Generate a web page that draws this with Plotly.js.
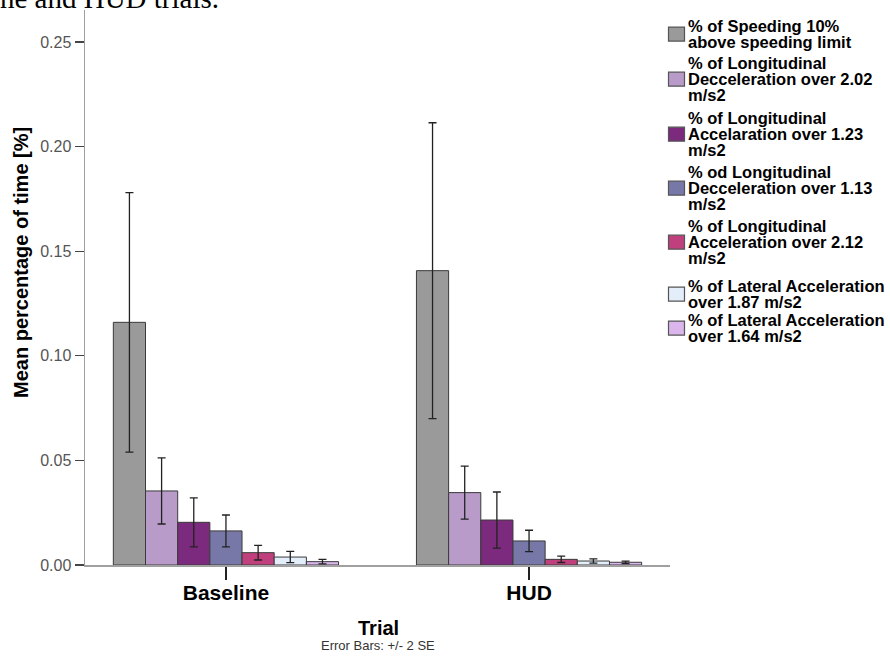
<!DOCTYPE html>
<html>
<head>
<meta charset="utf-8">
<script src="https://cdn.plot.ly/plotly-3.0.1.min.js"></script>
<style>html,body{margin:0;padding:0;background:#fff;}#chart{width:890px;height:657px;}</style>
</head>
<body>
<div id="chart"></div>
<script>
// ---- data ----
var trials = ['Baseline', 'HUD'];
var seriesNames = [
  '% of Speeding 10% above speeding limit',
  '% of Longitudinal Decceleration over 2.02 m/s2',
  '% of Longitudinal Accelaration over 1.23 m/s2',
  '% od Longitudinal Decceleration over 1.13 m/s2',
  '% of Longitudinal Acceleration over 2.12 m/s2',
  '% of Lateral Acceleration over 1.87 m/s2',
  '% of Lateral Acceleration over 1.64 m/s2'
];
var legendLines = [
  ['% of Speeding 10%', 'above speeding limit'],
  ['% of Longitudinal', 'Decceleration over 2.02', 'm/s2'],
  ['% of Longitudinal', 'Accelaration over 1.23', 'm/s2'],
  ['% od Longitudinal', 'Decceleration over 1.13', 'm/s2'],
  ['% of Longitudinal', 'Acceleration over 2.12', 'm/s2'],
  ['% of Lateral Acceleration', 'over 1.87 m/s2'],
  ['% of Lateral Acceleration', 'over 1.64 m/s2']
];
var speedingMean = [0.1160, 0.1407];
var decel202Mean = [0.0354, 0.0346];
var accel123Mean = [0.0204, 0.0215];
var decel113Mean = [0.0163, 0.0115];
var accel212Mean = [0.0059, 0.0027];
var lat187Mean   = [0.0038, 0.0019];
var lat164Mean   = [0.0016, 0.0013];

var speedingErr = [0.0620, 0.0707];
var decel202Err = [0.0158, 0.0127];
var accel123Err = [0.0117, 0.0134];
var decel113Err = [0.0076, 0.0051];
var accel212Err = [0.0035, 0.0015];
var lat187Err   = [0.0027, 0.0010];
var lat164Err   = [0.0011, 0.0006];

var yTickVals = [0, 0.05, 0.10, 0.15, 0.20, 0.25];

// ---- styles ----
var colors = ['#9a9a9a', '#b99bc9', '#7c2a7d', '#7878a8', '#c0407e', '#e3eefa', '#dab6ec'];
var means = [speedingMean, decel202Mean, accel123Mean, decel113Mean, accel212Mean, lat187Mean, lat164Mean];
var errs = [speedingErr, decel202Err, accel123Err, decel113Err, accel212Err, lat187Err, lat164Err];

var W = 890, H = 657, mL = 85, mR = 220, mT = 10, mB = 92;
var pw = W - mL - mR, ph = H - mT - mB;
function px(x) { return (x - mL) / pw; }
function py(y) { return (H - mB - y) / ph; }

var traces = seriesNames.map(function (name, i) {
  return {
    type: 'bar',
    name: name,
    x: trials,
    y: means[i],
    marker: { color: colors[i], line: { color: '#3a3a3a', width: 1 } },
    error_y: { type: 'data', array: errs[i], visible: true, color: '#222', thickness: 1.3, width: 4 },
    showlegend: false,
    hoverinfo: 'x+y+name'
  };
});

var font = 'Liberation Sans, Arial, sans-serif';
var annotations = [];
var shapes = [];

// top clipped caption text
annotations.push({
  xref: 'paper', yref: 'paper', x: px(221), y: py(16), xanchor: 'right', yanchor: 'bottom',
  text: 'in the Baseline and HUD trials.', showarrow: false,
  font: { family: 'Liberation Serif, Times New Roman, serif', size: 29, color: '#000' }
});

// y axis title
annotations.push({
  xref: 'paper', yref: 'paper', x: px(21), y: py(263), xanchor: 'center', yanchor: 'middle',
  text: 'Mean percentage of time [%]', textangle: -90, showarrow: false,
  font: { family: font, size: 20, color: '#000', weight: 'bold' }
});
// x axis title and note
annotations.push({
  xref: 'paper', yref: 'paper', x: px(378), y: py(628), xanchor: 'center', yanchor: 'middle',
  text: 'Trial', showarrow: false,
  font: { family: font, size: 20, color: '#000', weight: 'bold' }
});
annotations.push({
  xref: 'paper', yref: 'paper', x: px(378), y: py(645), xanchor: 'center', yanchor: 'middle',
  text: 'Error Bars: +/- 2 SE', showarrow: false,
  font: { family: font, size: 13, color: '#333' }
});

// custom legend built from the series arrays
var lineH = 16.2;
var itemStarts = [26, 63, 118, 172, 226, 286, 320];
legendLines.forEach(function (lines, i) {
  var first = itemStarts[i], yc = first;
  lines.forEach(function (t, j) {
    yc = first + j * lineH;
    annotations.push({
      xref: 'paper', yref: 'paper', x: px(686), y: py(yc), xanchor: 'left', yanchor: 'middle',
      text: t, showarrow: false,
      font: { family: font, size: 16.5, color: '#000', weight: 'bold' }
    });
  });
  var mid = (first + yc) / 2;
  shapes.push({
    type: 'rect', xref: 'paper', yref: 'paper',
    x0: px(668.5), x1: px(684.5), y0: py(mid + 7), y1: py(mid - 7),
    fillcolor: colors[i], line: { color: '#555', width: 1.2 }
  });
});

var layout = {
  width: W, height: H,
  margin: { l: mL, r: mR, t: mT, b: mB, pad: 0 },
  paper_bgcolor: '#fff', plot_bgcolor: '#fff',
  barmode: 'group', bargap: 0.257, bargroupgap: 0,
  showlegend: false,
  font: { family: font },
  xaxis: {
    type: 'category', range: [-0.465, 1.465],
    showline: true, linecolor: '#a0a0a0', linewidth: 1.5,
    ticks: 'outside', ticklen: 13, tickcolor: '#222', tickwidth: 1.2,
    ticklabelstandoff: -5,
    tickfont: { family: font, size: 21, color: '#000', weight: 'bold' },
    showgrid: false, zeroline: false, fixedrange: true
  },
  yaxis: {
    range: [0, 0.2653], tickvals: yTickVals, tickformat: '.2f',
    showline: true, linecolor: '#a0a0a0', linewidth: 1.5,
    ticks: 'outside', ticklen: 9, tickcolor: '#444', tickwidth: 1.2,
    tickfont: { family: font, size: 16, color: '#555' },
    showgrid: false, zeroline: false, fixedrange: true
  },
  annotations: annotations,
  shapes: shapes
};

Plotly.newPlot('chart', traces, layout, { displayModeBar: false, staticPlot: true });
</script>
</body>
</html>
